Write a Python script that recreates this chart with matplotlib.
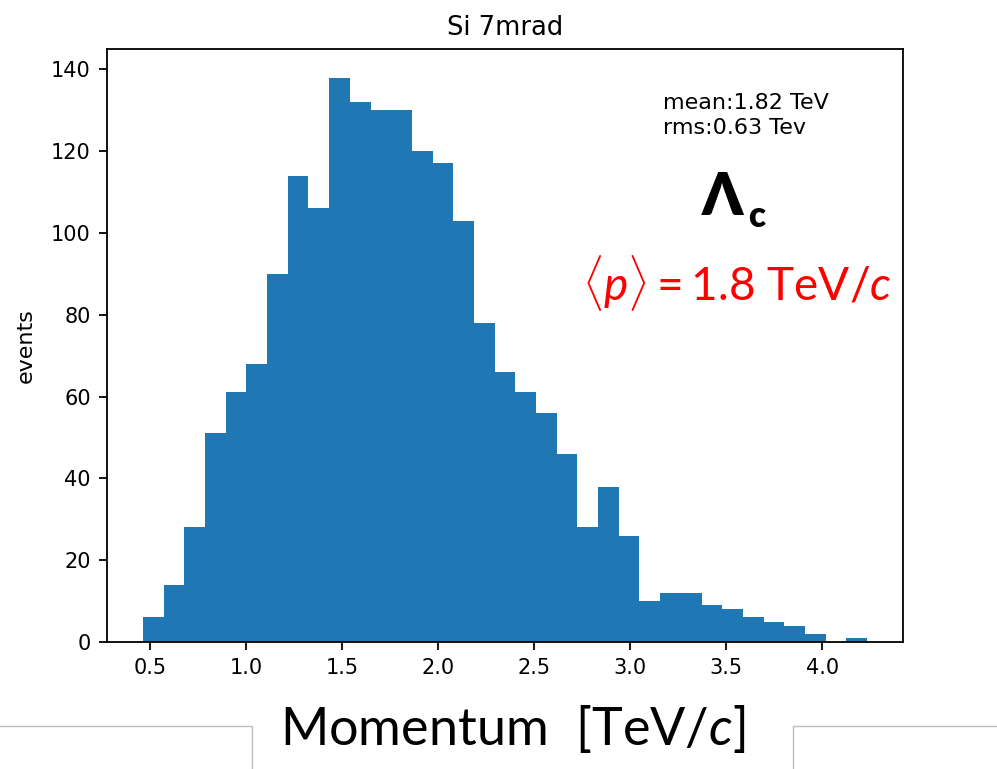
import numpy as np
import matplotlib
matplotlib.use("Agg")
import matplotlib.pyplot as plt
from matplotlib.lines import Line2D

plt.rcParams["mathtext.fontset"] = "custom"
plt.rcParams["mathtext.rm"] = "Lato"
plt.rcParams["mathtext.it"] = "Lato:italic"
plt.rcParams["mathtext.bf"] = "Lato:bold"

# histogram of Lambda_c momentum, 35 bins between 0.462 and 4.234 TeV
bin_lo = 0.462
bin_hi = 4.234
counts = [6, 14, 28, 51, 61, 68, 90, 114, 106, 138, 132, 130, 130, 120, 117,
          103, 78, 66, 61, 56, 46, 28, 38, 26, 10, 12, 12, 9, 8, 6, 5, 4, 2, 0, 1]
xticks = [0.5, 1.0, 1.5, 2.0, 2.5, 3.0, 3.5, 4.0]
yticks = [0, 20, 40, 60, 80, 100, 120, 140]

edges = np.linspace(bin_lo, bin_hi, len(counts) + 1)
centers = 0.5 * (edges[:-1] + edges[1:])

W, H = 997, 769
fig = plt.figure(figsize=(W / 100, H / 100), dpi=100)
ax = fig.add_axes([106.7 / W, 1 - 642 / H, 796.6 / W, 592.7 / H])

ax.hist(centers, bins=edges, weights=counts, color="#1f77b4")
ax.set_xticks(xticks)
ax.set_yticks(yticks)
ax.tick_params(labelsize=15, length=6, width=1.3, pad=5.5)
for s in ax.spines.values():
    s.set_linewidth(1.3)

ax.set_title("Si 7mrad", fontsize=18.5, pad=10)
ax.set_ylabel("events", fontsize=16)
ax.yaxis.set_label_coords((36 - 106.7) / 796.6, 0.5)

ax.text(0.698, 0.888, "mean:1.82 TeV\nrms:0.63 Tev", transform=ax.transAxes,
        fontsize=16, va="center", ha="left", linespacing=1.3)

# slide overlay text
fig.text(702 / W, 1 - 215 / H, "Λ", fontsize=42, fontweight="heavy",
         family=["Lato", "DejaVu Sans"], va="baseline", ha="left")
fig.text(748 / W, 1 - 227 / H, "c", fontsize=25, fontweight="heavy",
         family=["Lato", "DejaVu Sans"], va="baseline", ha="left")
fig.text(582 / W, 1 - 300 / H, r"$\langle p\rangle = \mathrm{1.8\ TeV/}c$",
         fontsize=33, color="red", va="baseline", ha="left")
fig.text(280 / W, 1 - 745 / H, r"$\mathrm{Momentum\ \ [TeV/}c\mathrm{]}$",
         fontsize=37.5, color="black", va="baseline", ha="left")

gray = "#bfbfbf"
fig.add_artist(Line2D([0, 251.7 / W, 251.7 / W], [1 - 726 / H, 1 - 726 / H, 0],
                      color=gray, lw=1, transform=fig.transFigure))
fig.add_artist(Line2D([792.7 / W, 792.7 / W, 1], [0, 1 - 726 / H, 1 - 726 / H],
                      color=gray, lw=1, transform=fig.transFigure))

fig.savefig("out.png", dpi=100)
